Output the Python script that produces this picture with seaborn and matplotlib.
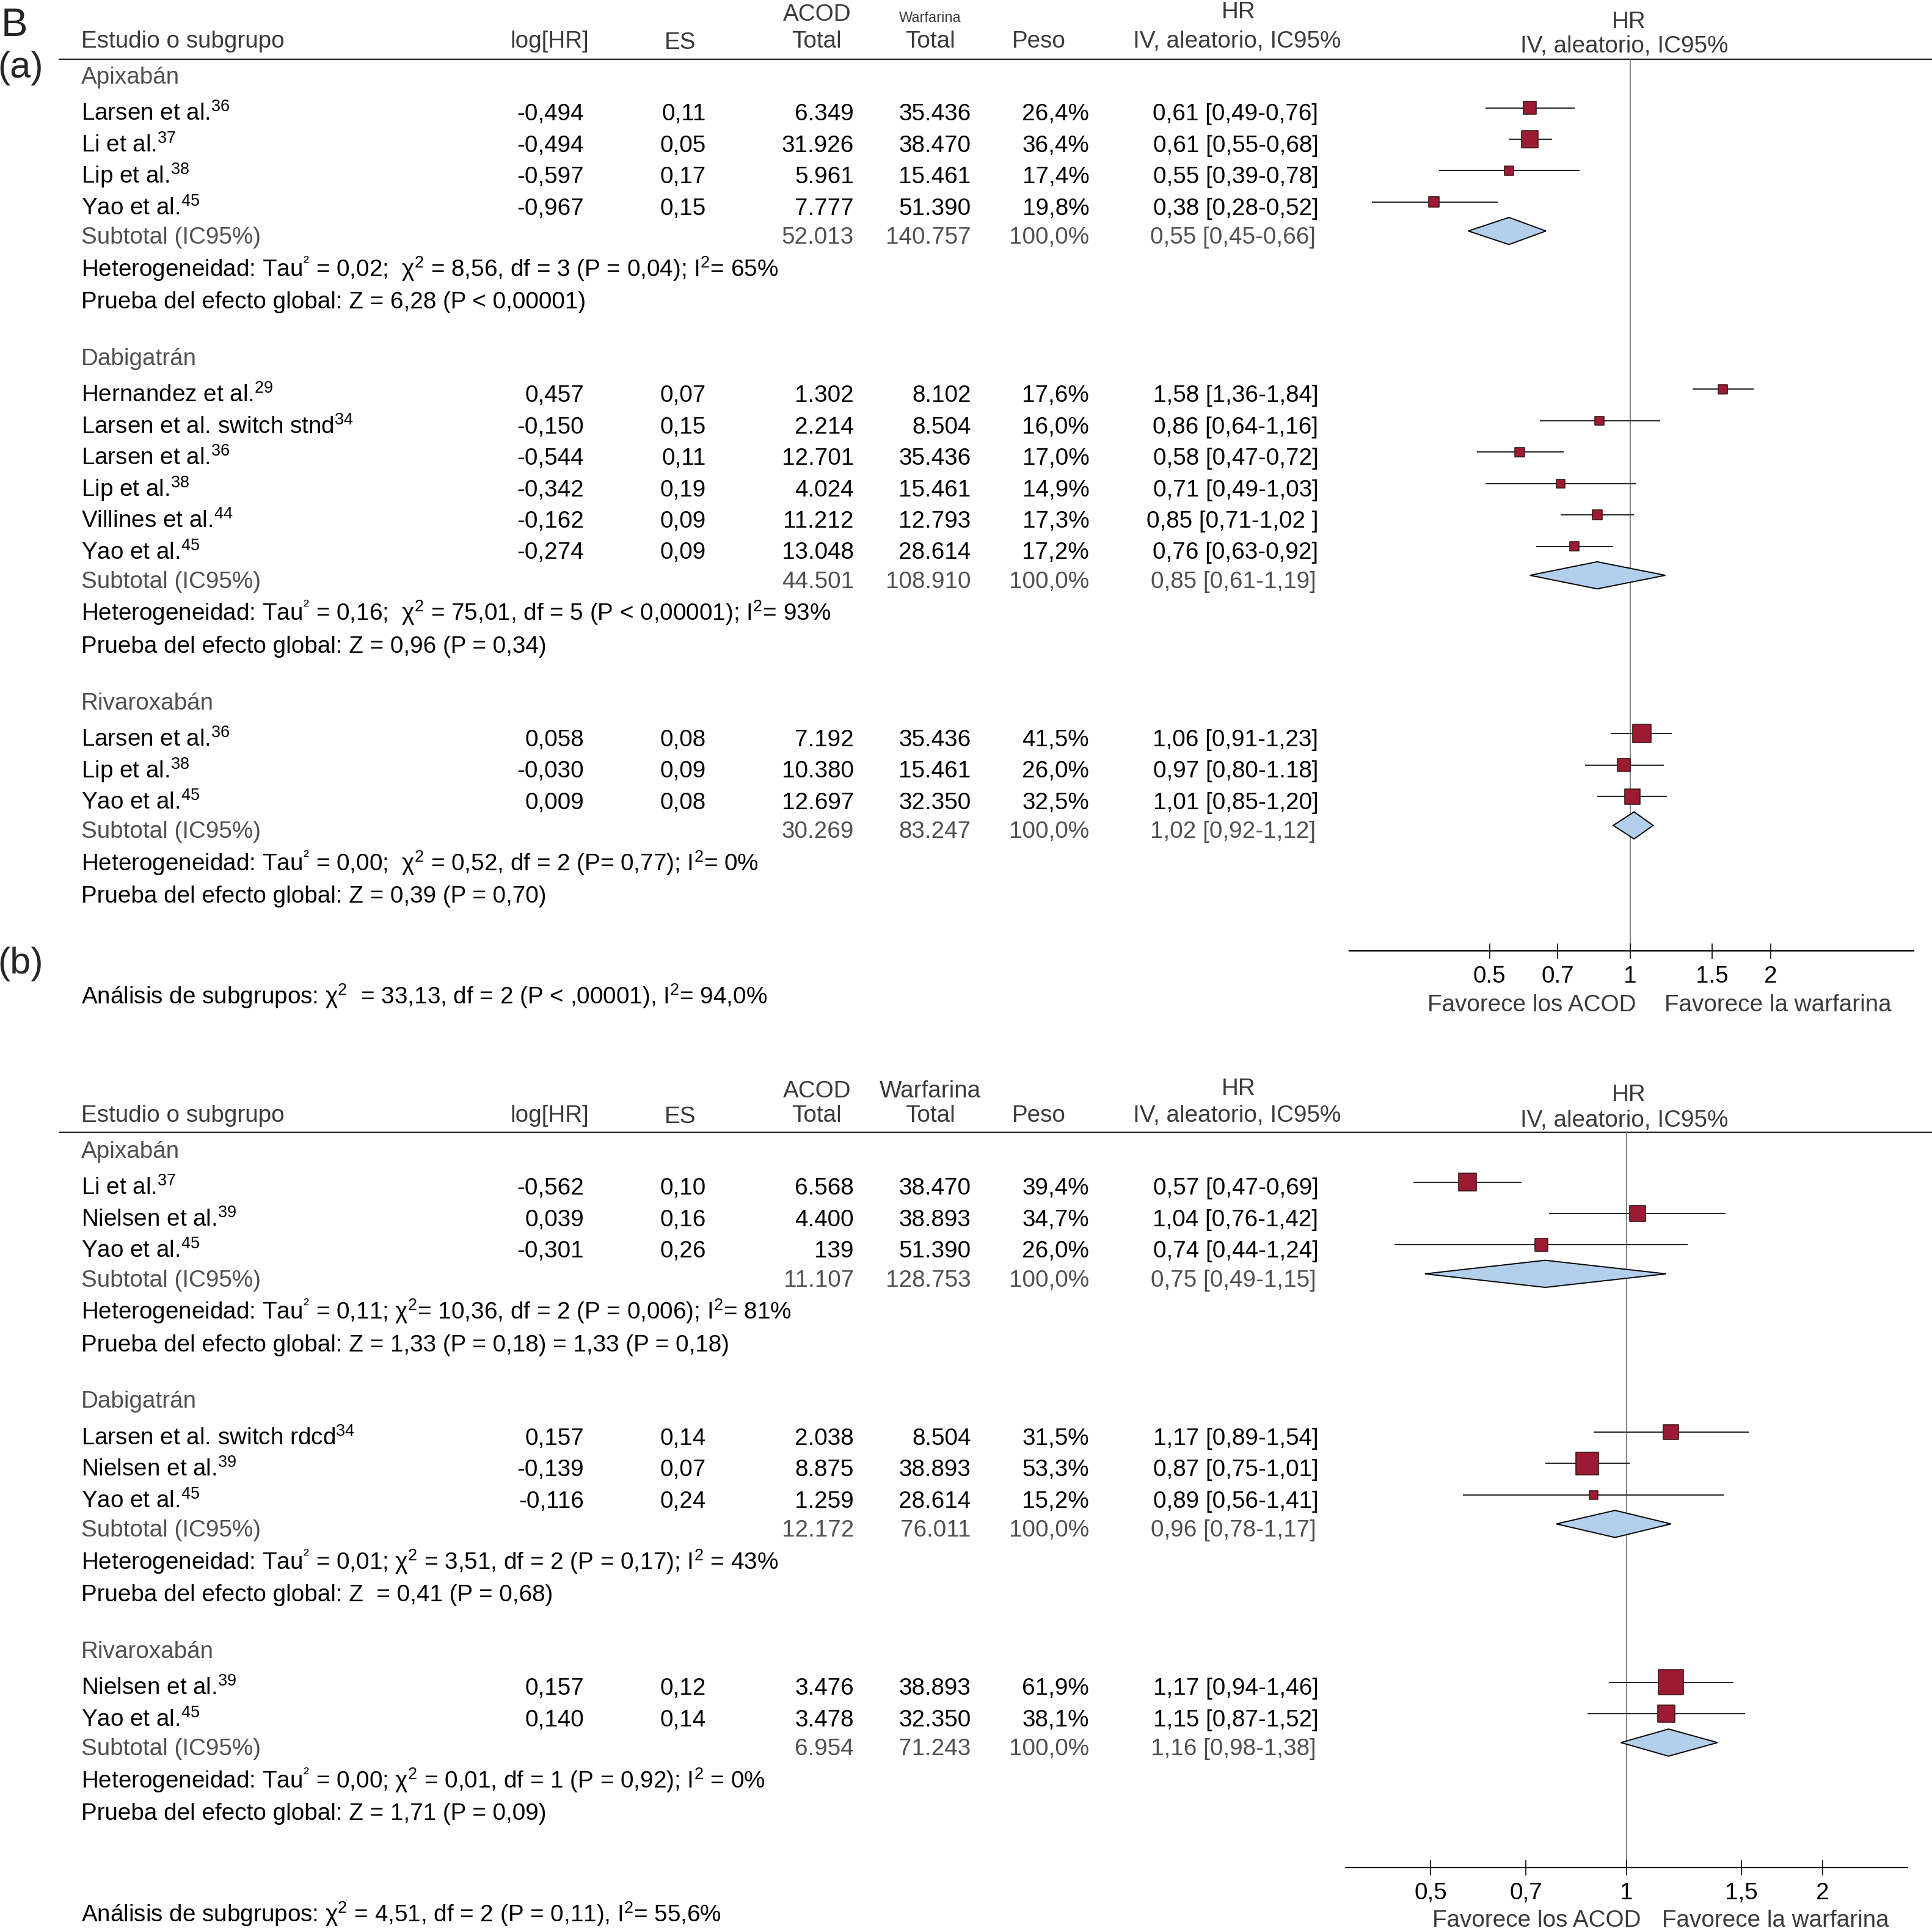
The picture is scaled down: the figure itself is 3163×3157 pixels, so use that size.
import re
import numpy as np
import pandas as pd
import matplotlib
matplotlib.use('Agg')
import matplotlib.pyplot as plt
from matplotlib.ticker import NullLocator
import seaborn as sns

# ---------------- panel (a) ----------------
a_drug = ['Apixabán'] * 4 + ['Dabigatrán'] * 6 + ['Rivaroxabán'] * 3
a_study = ['Larsen et al.', 'Li et al.', 'Lip et al.', 'Yao et al.',
           'Hernandez et al.', 'Larsen et al. switch stnd', 'Larsen et al.', 'Lip et al.', 'Villines et al.', 'Yao et al.',
           'Larsen et al.', 'Lip et al.', 'Yao et al.']
a_ref = ['36', '37', '38', '45', '29', '34', '36', '38', '44', '45', '36', '38', '45']
a_loghr = ['-0,494', '-0,494', '-0,597', '-0,967',
           '0,457', '-0,150', '-0,544', '-0,342', '-0,162', '-0,274',
           '0,058', '-0,030', '0,009']
a_es = ['0,11', '0,05', '0,17', '0,15', '0,07', '0,15', '0,11', '0,19', '0,09', '0,09', '0,08', '0,09', '0,08']
a_acod = ['6.349', '31.926', '5.961', '7.777', '1.302', '2.214', '12.701', '4.024', '11.212', '13.048',
          '7.192', '10.380', '12.697']
a_warf = ['35.436', '38.470', '15.461', '51.390', '8.102', '8.504', '35.436', '15.461', '12.793', '28.614',
          '35.436', '15.461', '32.350']
a_peso = ['26,4%', '36,4%', '17,4%', '19,8%', '17,6%', '16,0%', '17,0%', '14,9%', '17,3%', '17,2%',
          '41,5%', '26,0%', '32,5%']
a_hr = ['0,61 [0,49-0,76]', '0,61 [0,55-0,68]', '0,55 [0,39-0,78]', '0,38 [0,28-0,52]',
        '1,58 [1,36-1,84]', '0,86 [0,64-1,16]', '0,58 [0,47-0,72]', '0,71 [0,49-1,03]', '0,85 [0,71-1,02 ]',
        '0,76 [0,63-0,92]',
        '1,06 [0,91-1,23]', '0,97 [0,80-1.18]', '1,01 [0,85-1,20]']
a_sub_acod = ['52.013', '44.501', '30.269']
a_sub_warf = ['140.757', '108.910', '83.247']
a_sub_hr = ['0,55 [0,45-0,66]', '0,85 [0,61-1,19]', '1,02 [0,92-1,12]']
a_het = [r'Heterogeneidad: Tau$^{²}$ = 0,02;  χ$^{2}$ = 8,56, df = 3 (P = 0,04); I$^{2}$= 65%',
         r'Heterogeneidad: Tau$^{²}$ = 0,16;  χ$^{2}$ = 75,01, df = 5 (P < 0,00001); I$^{2}$= 93%',
         r'Heterogeneidad: Tau$^{²}$ = 0,00;  χ$^{2}$ = 0,52, df = 2 (P= 0,77); I$^{2}$= 0%']
a_z = ['Prueba del efecto global: Z = 6,28 (P < 0,00001)',
       'Prueba del efecto global: Z = 0,96 (P = 0,34)',
       'Prueba del efecto global: Z = 0,39 (P = 0,70)']
a_overall = r'Análisis de subgrupos: χ$^{2}$  = 33,13, df = 2 (P < ,00001), I$^{2}$= 94,0%'
a_ticks = [0.5, 0.7, 1, 1.5, 2]
a_ticklabels = ['0.5', '0.7', '1', '1.5', '2']

# ---------------- panel (b) ----------------
b_drug = ['Apixabán'] * 3 + ['Dabigatrán'] * 3 + ['Rivaroxabán'] * 2
b_study = ['Li et al.', 'Nielsen et al.', 'Yao et al.',
           'Larsen et al. switch rdcd', 'Nielsen et al.', 'Yao et al.',
           'Nielsen et al.', 'Yao et al.']
b_ref = ['37', '39', '45', '34', '39', '45', '39', '45']
b_loghr = ['-0,562', '0,039', '-0,301', '0,157', '-0,139', '-0,116', '0,157', '0,140']
b_es = ['0,10', '0,16', '0,26', '0,14', '0,07', '0,24', '0,12', '0,14']
b_acod = ['6.568', '4.400', '139', '2.038', '8.875', '1.259', '3.476', '3.478']
b_warf = ['38.470', '38.893', '51.390', '8.504', '38.893', '28.614', '38.893', '32.350']
b_peso = ['39,4%', '34,7%', '26,0%', '31,5%', '53,3%', '15,2%', '61,9%', '38,1%']
b_hr = ['0,57 [0,47-0,69]', '1,04 [0,76-1,42]', '0,74 [0,44-1,24]',
        '1,17 [0,89-1,54]', '0,87 [0,75-1,01]', '0,89 [0,56-1,41]',
        '1,17 [0,94-1,46]', '1,15 [0,87-1,52]']
b_sub_acod = ['11.107', '12.172', '6.954']
b_sub_warf = ['128.753', '76.011', '71.243']
b_sub_hr = ['0,75 [0,49-1,15]', '0,96 [0,78-1,17]', '1,16 [0,98-1,38]']
b_het = [r'Heterogeneidad: Tau$^{²}$ = 0,11; χ$^{2}$= 10,36, df = 2 (P = 0,006); I$^{2}$= 81%',
         r'Heterogeneidad: Tau$^{²}$ = 0,01; χ$^{2}$ = 3,51, df = 2 (P = 0,17); I$^{2}$ = 43%',
         r'Heterogeneidad: Tau$^{²}$ = 0,00; χ$^{2}$ = 0,01, df = 1 (P = 0,92); I$^{2}$ = 0%']
b_z = ['Prueba del efecto global: Z = 1,33 (P = 0,18) = 1,33 (P = 0,18)',
       'Prueba del efecto global: Z  = 0,41 (P = 0,68)',
       'Prueba del efecto global: Z = 1,71 (P = 0,09)']
b_overall = r'Análisis de subgrupos: χ$^{2}$ = 4,51, df = 2 (P = 0,11), I$^{2}$= 55,6%'
b_ticks = [0.5, 0.7, 1, 1.5, 2]
b_ticklabels = ['0,5', '0,7', '1', '1,5', '2']

sns.set_theme(style='white')
plt.rcParams['font.family'] = ['Liberation Sans', 'DejaVu Sans']
plt.rcParams['mathtext.default'] = 'regular'

RED = '#9c1b33'
BLUE = '#b2cfeb'
HDR = '#3a3a3a'
GRAY = '#505050'
FS = 27.8

W, H = 1568, 1565
fig = plt.figure(figsize=(31.63, 31.57), dpi=100)
tx = fig.add_axes([0, 0, 1, 1])
tx.set_xlim(0, W)
tx.set_ylim(H, 0)
tx.axis('off')


def nums(s):
    return [float(v.replace(',', '.')) for v in re.findall(r'\d+[.,]\d+', s)]


def put(x, y, s, ha='left', color='black', size=FS):
    # y is the visual centre of the line, convert to baseline
    tx.text(x, y + 6.8, s, ha=ha, va='baseline', color=color, fontsize=size)


def layout(y0, sizes):
    out, y = [], y0
    for n in sizes:
        rows = [y + 30 + 25.5 * i for i in range(n)]
        sub = rows[-1] + 23.5
        het = sub + 26.5
        z = het + 26
        out.append((y, rows, sub, het, z))
        y = z + 46
    return out


def header(y1, y2, yr1, yr2, rule, small_warf):
    put(66, y2, 'Estudio o subgrupo', color=HDR)
    put(446, y2, 'log[HR]', ha='center', color=HDR)
    put(552, y2 + 1, 'ES', ha='center', color=HDR)
    put(663, y1, 'ACOD', ha='center', color=HDR)
    put(663, y2, 'Total', ha='center', color=HDR)
    if small_warf:
        put(755, y1 + 1, 'Warfarina', ha='center', color=HDR, size=17)
    else:
        put(755, y1, 'Warfarina', ha='center', color=HDR)
    put(755, y2, 'Total', ha='center', color=HDR)
    put(843, y2, 'Peso', ha='center', color=HDR)
    put(1005, y1 - 2, 'HR', ha='center', color=HDR)
    put(1004, y2, 'IV, aleatorio, IC95%', ha='center', color=HDR)
    put(1322, yr1, 'HR', ha='center', color=HDR)
    put(1318, yr2, 'IV, aleatorio, IC95%', ha='center', color=HDR)
    tx.plot([48, W], [rule, rule], color='#222222', lw=1.6)


def panel(drug, study, ref, loghr, es, acod, warf, peso, hr, sub_acod, sub_warf, sub_hr,
          het, z, y0, axbox, xlim, ticks, ticklabels):
    groups = list(dict.fromkeys(drug))
    sizes = [drug.count(g) for g in groups]
    lay = layout(y0, sizes)
    recs, subs = [], []
    i = 0
    for gi, (gy, rows, sy, hy, zy) in enumerate(lay):
        put(66, gy, groups[gi], color=GRAY)
        for ry in rows:
            put(66, ry, study[i] + r'$^{' + ref[i] + '}$')
            put(474, ry, loghr[i], ha='right')
            put(573, ry, es[i], ha='right')
            put(693, ry, acod[i], ha='right')
            put(788, ry, warf[i], ha='right')
            put(884, ry, peso[i], ha='right')
            put(1070, ry, hr[i], ha='right')
            v = nums(hr[i])
            w = float(peso[i].rstrip('%').replace(',', '.'))
            recs.append({'y': ry - 3.5, 'hr': v[0], 'lo': v[1], 'hi': v[2], 'w': w})
            i += 1
        put(66, sy, 'Subtotal (IC95%)', color=GRAY)
        put(693, sy, sub_acod[gi], ha='right', color=GRAY)
        put(788, sy, sub_warf[gi], ha='right', color=GRAY)
        put(884, sy, '100,0%', ha='right', color=GRAY)
        put(1068, sy, sub_hr[gi], ha='right', color=GRAY)
        put(66, hy, het[gi])
        put(66, zy, z[gi])
        v = nums(sub_hr[gi])
        subs.append((sy - 3.5, v[0], v[1], v[2]))

    df = pd.DataFrame(recs)
    side = 1.321 * df['w'] ** 0.75
    df['area'] = side ** 2

    x0, x1, ytop, ybot = axbox
    ax = fig.add_axes([x0 / W, 1 - ybot / H, (x1 - x0) / W, (ybot - ytop) / H])
    ax.set_xscale('log')
    ax.set_xlim(*xlim)
    ax.set_ylim(ybot, ytop)
    ax.patch.set_alpha(0)
    ax.axvline(1, color='#7a7a7a', lw=1.3, zorder=0)
    ax.hlines(df['y'], df['lo'], df['hi'], color='#2a2a2a', lw=1.5, zorder=1)
    sns.scatterplot(x=df['hr'].values, y=df['y'].values, marker='s', s=df['area'].values,
                    color=RED, edgecolor='#3a1a1a', linewidth=1.2, ax=ax, legend=False, zorder=2)
    for (yy, m, lo, hi) in subs:
        ax.fill([lo, m, hi, m], [yy, yy - 11, yy, yy + 11], facecolor=BLUE,
                edgecolor='black', lw=1.4, zorder=2)
    for sp in ['left', 'right', 'top']:
        ax.spines[sp].set_visible(False)
    ax.spines['bottom'].set_color('black')
    ax.spines['bottom'].set_linewidth(1.6)
    ax.set_yticks([])
    ax.set_xticks(ticks)
    ax.set_xticklabels(ticklabels)
    ax.xaxis.set_minor_locator(NullLocator())
    ax.tick_params(axis='x', direction='inout', length=18, width=1.2, pad=8,
                   labelsize=FS, colors='black', bottom=True)
    ax.set_xlabel('')
    ax.set_ylabel('')
    ax.grid(False)
    return ax


# panel labels
tx.text(1, 29, 'B', fontsize=47, ha='left', va='baseline')
tx.text(-2, 63, '(a)', fontsize=44, ha='left', va='baseline')
tx.text(-2, 790, '(b)', fontsize=44, ha='left', va='baseline')

# panel (a)
header(10, 32, 16, 36, 48, True)
panel(a_drug, a_study, a_ref, a_loghr, a_es, a_acod, a_warf, a_peso, a_hr,
      a_sub_acod, a_sub_warf, a_sub_hr, a_het, a_z, 61,
      (1095, 1553, 48, 772), (0.25, 4.05), a_ticks, a_ticklabels)
put(66, 808, a_overall)
put(1243, 814, 'Favorece los ACOD', ha='center', color=HDR)
put(1443, 814, 'Favorece la warfarina', ha='center', color=HDR)

# panel (b)
header(884, 904, 887, 908, 919, False)
panel(b_drug, b_study, b_ref, b_loghr, b_es, b_acod, b_warf, b_peso, b_hr,
      b_sub_acod, b_sub_warf, b_sub_hr, b_het, b_z, 933,
      (1092, 1548, 919, 1516), (0.37, 2.7), b_ticks, b_ticklabels)
put(66, 1553, b_overall)
put(1247, 1557, 'Favorece los ACOD', ha='center', color=HDR)
put(1441, 1557, 'Favorece la warfarina', ha='center', color=HDR)

fig.savefig('out.png', dpi=100)
